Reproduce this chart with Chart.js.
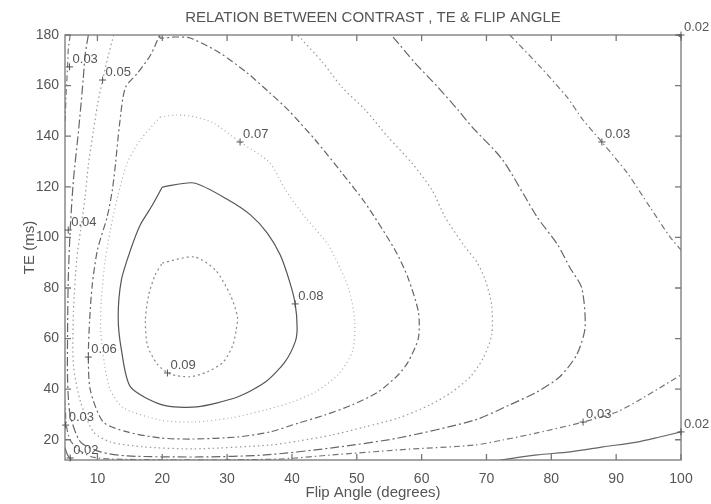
<!DOCTYPE html>
<html>
<head>
<meta charset="utf-8">
<script src="https://cdn.jsdelivr.net/npm/chart.js@4.4.0/dist/chart.umd.min.js"></script>
<style>
  html, body { margin: 0; padding: 0; background: #fff; }
  #wrap { width: 711px; height: 504px; }
</style>
</head>
<body>
<div id="wrap"><canvas id="contourChart"></canvas></div>
<script>
// tick labels
const xTicks = [10, 20, 30, 40, 50, 60, 70, 80, 90, 100];
const yTicks = [20, 40, 60, 80, 100, 120, 140, 160, 180];

// contour lines, [flip angle, TE]
const c02top = [[99.4, 180], [100, 179.2]];
const c02right = [[72.1, 12.0], [77.8, 14.0], [82.9, 15.2], [88.0, 17.2], [93.2, 19.1], [96.7, 21.1], [100, 23.1]];
const c02left = [[5.0, 16.8], [5.4, 14.0], [6.0, 12.0]];
const c03top = [[73.6, 180], [78.3, 167.4], [82.4, 155.5], [84.9, 146.4], [87.8, 137.7], [91.7, 125.5], [95.2, 112.0], [98.3, 100.2], [100, 95.0]];
const c03main = [[5.8, 180], [5.5, 174.1], [5.4, 167.4], [5.2, 158.3], [5.05, 148.4], [4.8, 130], [4.6, 100], [4.8, 40],
  [5.06, 31.8], [5.2, 25.8], [5.8, 19.9], [7.1, 16.0], [9.2, 13.2], [12.0, 12.4], [19.7, 12.1], [28.9, 12.1], [38.2, 12.4],
  [46.2, 14.0], [56.4, 16.0], [68.2, 17.9], [72.5, 19.9], [77.8, 22.7], [84.9, 27.0], [90.1, 31.0], [94.1, 36.5], [96.7, 40.5], [100, 45.6]];
const c04 = [[8.6, 180], [8.1, 172.1], [7.8, 162.2], [7.1, 142.5], [6.3, 122.7], [5.8, 102.9], [5.5, 83.2], [5.4, 63.4], [5.4, 43.6],
  [5.8, 29.8], [7.4, 19.1], [10.5, 15.2], [14.6, 13.6], [25.9, 13.2], [35.9, 14.0], [46.2, 16.8], [56.4, 20.7], [68.2, 27.8],
  [73.6, 33.8], [77.8, 38.9], [81.3, 44.9], [83.9, 53.5], [85.2, 64.2], [84.7, 80.0], [82.9, 87.9], [81.0, 97.0], [77.8, 108.1],
  [72.5, 130.6], [67.8, 143.6], [65.6, 150.4], [62.5, 159.4], [59.0, 168.9], [55.6, 179.2], [55.3, 180]];
const c05 = [[12.5, 180], [11.7, 172.1], [10.8, 162.2], [10.0, 152.3], [9.4, 142.5], [8.6, 128.6], [8.1, 116.0], [7.4, 102.9],
  [6.8, 91.1], [6.3, 70.5], [6.3, 49.6], [7.4, 34.9], [9.4, 23.1], [12.0, 19.1], [17.1, 17.2], [24.8, 16.4], [36.6, 17.9],
  [41.0, 19.5], [46.2, 21.9], [51.3, 25.1], [56.4, 28.6], [61.3, 33.8], [64.7, 38.9], [67.5, 44.9], [69.5, 52.3], [70.8, 61.4],
  [70.8, 73.3], [69.8, 83.2], [68.5, 90.3], [66.7, 96.2], [63.6, 108.1], [61.6, 118.7], [58.5, 129.4], [54.8, 139.7],
  [51.3, 150.4], [47.7, 159.4], [44.7, 169.3], [41.3, 178.8], [40.8, 180]];
const c06 = [[19.6, 180], [19.7, 178.8], [22.0, 179.2], [24.3, 178.8], [28.9, 172.9], [33.1, 165.0], [36.6, 157.1], [39.4, 150.4],
  [43.6, 138.5], [47.7, 125.5], [51.3, 113.6], [55.9, 95.0], [57.9, 84.0], [59.5, 70.5], [59.5, 60.2], [57.9, 50.7], [56.4, 45.7],
  [53.3, 38.9], [49.3, 33.8], [45.1, 29.8], [41.0, 26.6], [36.6, 23.1], [31.6, 21.1], [24.8, 20.3], [19.7, 20.7], [14.6, 23.1],
  [10.9, 27.0], [8.9, 39.7], [8.6, 52.7], [8.8, 67.4], [9.2, 81.2], [10.0, 95.0], [11.5, 108.1], [12.3, 118.7], [12.8, 129.4],
  [13.4, 144.4], [14.3, 159.1], [16.2, 165.0], [18.2, 172.1], [19.6, 180]];
const c07 = [[19.7, 147.6], [22.3, 148.4], [25.1, 147.6], [27.9, 145.2], [32.0, 137.7], [36.6, 129.4], [39.0, 118.7], [42.0, 108.1],
  [45.6, 97.0], [48.7, 80.0], [49.7, 66.6], [49.3, 54.7], [47.1, 45.7], [43.6, 38.9], [40.0, 34.9], [35.9, 31.8], [30.5, 28.6],
  [24.8, 27.0], [19.7, 27.8], [14.0, 32.6], [12.0, 39.7], [11.1, 49.6], [10.5, 63.4], [10.6, 75.3], [11.2, 91.1], [12.0, 102.9],
  [13.1, 116.0], [14.6, 129.4], [16.6, 138.5], [19.7, 147.6]];
const c08 = [[20.0, 119.9], [24.9, 121.5], [30.2, 114.8], [33.6, 108.9], [36.2, 101.7], [38.2, 93.0], [39.7, 82.0], [40.5, 73.7],
  [40.8, 64.2], [40.5, 58.7], [38.9, 50.7], [35.9, 42.8], [31.6, 36.9], [25.3, 33.0], [20.0, 33.8], [15.1, 40.9], [13.7, 55.5],
  [13.2, 68.5], [13.7, 83.2], [15.1, 95.0], [16.6, 104.9], [18.3, 112.0], [20.0, 119.9]];
const c09 = [[20.0, 89.9], [24.9, 92.3], [28.2, 87.1], [30.5, 77.2], [31.6, 68.5], [31.4, 63.4], [30.9, 57.5], [29.4, 50.7],
  [26.9, 46.8], [24.3, 44.9], [21.2, 46.0], [19.2, 50.0], [17.7, 57.5], [17.4, 67.4], [17.9, 77.2], [18.9, 85.1], [20.0, 89.9]];

// contour labels (clabel style)
const labelText = ['0.03', '0.05', '0.07', '0.03', '0.02', '0.04', '0.08', '0.06', '0.09', '0.03', '0.02', '0.03', '0.02'];
const labelX = [5.7, 10.8, 32.0, 87.8, 100, 5.5, 40.5, 8.6, 20.8, 5.1, 5.8, 84.9, 100];
const labelY = [167.4, 162.2, 137.7, 137.7, 180, 102.9, 73.7, 52.7, 46.4, 25.8, 12.8, 27.0, 23.1];

const lineStyle = {
  '0.02': { color: '#666', dash: [] },
  '0.03': { color: '#777', dash: [6, 3, 1.5, 3] },
  '0.04': { color: '#666', dash: [9, 3, 2, 3] },
  '0.05': { color: '#999', dash: [1.5, 3] },
  '0.06': { color: '#666', dash: [7, 3, 2, 3] },
  '0.07': { color: '#aaa', dash: [1, 3] },
  '0.08': { color: '#555', dash: [] },
  '0.09': { color: '#888', dash: [2, 3] }
};

const contours = [
  ['0.02', c02top], ['0.02', c02right], ['0.02', c02left],
  ['0.03', c03top], ['0.03', c03main],
  ['0.04', c04], ['0.05', c05], ['0.06', c06],
  ['0.07', c07], ['0.08', c08], ['0.09', c09]
];

const fontFamily = '"Liberation Sans", Arial, sans-serif';

// box, inward ticks and contour labels like the MATLAB figure
const matlabBox = {
  id: 'matlabBox',
  afterDatasetsDraw(chart) {
    const { ctx, chartArea: a, scales: { x, y } } = chart;
    ctx.save();
    ctx.strokeStyle = '#777';
    ctx.lineWidth = 1.3;
    ctx.strokeRect(a.left, a.top, a.right - a.left, a.bottom - a.top);
    ctx.beginPath();
    xTicks.forEach(v => {
      const px = x.getPixelForValue(v);
      ctx.moveTo(px, a.bottom); ctx.lineTo(px, a.bottom - 6);
      ctx.moveTo(px, a.top); ctx.lineTo(px, a.top + 6);
    });
    yTicks.forEach(v => {
      const py = y.getPixelForValue(v);
      ctx.moveTo(a.left, py); ctx.lineTo(a.left + 6, py);
      ctx.moveTo(a.right, py); ctx.lineTo(a.right - 6, py);
    });
    ctx.stroke();

    ctx.font = '13px ' + fontFamily;
    ctx.fillStyle = '#555';
    ctx.strokeStyle = '#555';
    ctx.lineWidth = 1;
    ctx.textBaseline = 'bottom';
    labelText.forEach((t, i) => {
      const px = x.getPixelForValue(labelX[i]);
      const py = y.getPixelForValue(labelY[i]);
      ctx.beginPath();
      ctx.moveTo(px - 3.5, py); ctx.lineTo(px + 3.5, py);
      ctx.moveTo(px, py - 3.5); ctx.lineTo(px, py + 3.5);
      ctx.stroke();
      ctx.fillText(t, px + 3, py - 1);
    });
    ctx.restore();
  }
};

const ctx = document.getElementById('contourChart').getContext('2d');
const chart = new Chart(ctx, {
  type: 'scatter',
  data: {
    datasets: contours.map(([level, pts]) => ({
      label: level,
      data: pts.map(p => ({ x: p[0], y: p[1] })),
      showLine: true,
      pointRadius: 0,
      borderColor: lineStyle[level].color,
      borderDash: lineStyle[level].dash,
      borderWidth: 1.2,
      tension: 0.25,
      fill: false
    }))
  },
  options: {
    responsive: true,
    maintainAspectRatio: false,
    animation: false,
    layout: { padding: { top: 0, right: 30, bottom: 0, left: 0 } },
    plugins: {
      legend: { display: false },
      tooltip: { enabled: false },
      title: {
        display: true,
        text: 'RELATION BETWEEN CONTRAST , TE & FLIP ANGLE',
        color: '#555',
        fullSize: false,
        font: { family: fontFamily, size: 15, weight: 'normal', lineHeight: 1 },
        padding: { top: 10, bottom: 10 }
      }
    },
    scales: {
      x: {
        type: 'linear',
        min: 5,
        max: 100,
        afterBuildTicks: s => { s.ticks = xTicks.map(v => ({ value: v })); },
        afterFit: s => { s.height = 44; },
        grid: { display: false, drawTicks: false },
        border: { display: false },
        ticks: { color: '#555', font: { family: fontFamily, size: 14 }, padding: 11, maxRotation: 0, autoSkip: false },
        title: { display: true, text: 'Flip Angle (degrees)', color: '#555', font: { family: fontFamily, size: 15 }, padding: { top: 0, bottom: 2 } }
      },
      y: {
        type: 'linear',
        min: 12,
        max: 180,
        afterBuildTicks: s => { s.ticks = yTicks.map(v => ({ value: v })); },
        afterFit: s => { s.width = 65; },
        grid: { display: false, drawTicks: false },
        border: { display: false },
        ticks: { color: '#555', font: { family: fontFamily, size: 14 }, padding: 6, autoSkip: false },
        title: { display: true, text: 'TE (ms)', color: '#555', font: { family: fontFamily, size: 15 }, padding: { top: 21, bottom: 0 } }
      }
    }
  },
  plugins: [matlabBox]
});
</script>
</body>
</html>
